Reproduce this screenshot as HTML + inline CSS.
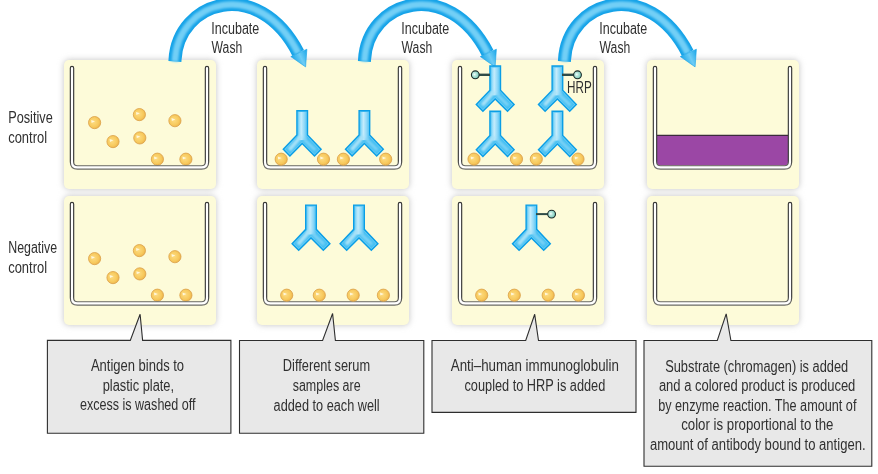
<!DOCTYPE html><html><head><meta charset="utf-8"><style>
html,body{margin:0;padding:0;background:#fff;width:878px;height:474px;overflow:hidden}svg{display:block}
text{font-family:"Liberation Sans",sans-serif;font-size:16px;fill:#303030}
</style></head><body>
<svg width="878" height="474" viewBox="0 0 878 474">
<defs>
<filter id="sh" x="-20%" y="-20%" width="140%" height="140%"><feGaussianBlur stdDeviation="3.3"/></filter>
<filter id="bl05" x="-50%" y="-50%" width="200%" height="200%"><feGaussianBlur stdDeviation="0.35"/></filter>
<filter id="bl1" x="-50%" y="-50%" width="200%" height="200%"><feGaussianBlur stdDeviation="1.1"/></filter>
<filter id="bl2" x="-50%" y="-50%" width="200%" height="200%"><feGaussianBlur stdDeviation="1.6"/></filter>
<radialGradient id="bg" cx="0.42" cy="0.45" r="0.62">
 <stop offset="0" stop-color="#fddc82"/><stop offset="0.65" stop-color="#f7c95d"/><stop offset="1" stop-color="#eab04a"/>
</radialGradient>
<radialGradient id="hg" cx="0.4" cy="0.45" r="0.6">
 <stop offset="0" stop-color="#f4fffc"/><stop offset="0.35" stop-color="#b9e7de"/><stop offset="0.75" stop-color="#8dd3c5"/><stop offset="1" stop-color="#6ebfb1"/>
</radialGradient>
<linearGradient id="headg" gradientUnits="userSpaceOnUse" x1="290.8" y1="56.6" x2="306.9" y2="49.2"><stop offset="0" stop-color="#18a5e8"/><stop offset="0.5" stop-color="#6dccf5"/><stop offset="1" stop-color="#18a5e8"/></linearGradient>
<linearGradient id="stemg" x1="-6" y1="0" x2="6" y2="0" gradientUnits="userSpaceOnUse">
 <stop offset="0" stop-color="#4cc2f2"/><stop offset="0.42" stop-color="#c4ecfc"/><stop offset="0.68" stop-color="#8fd8f8"/><stop offset="1" stop-color="#3cb9f0"/>
</linearGradient>
<clipPath id="abclip"><path d="M-3.90,2.10 L-3.90,25.54 L-16.97,39.26 L-12.30,43.93 L0.00,31.63 L12.30,43.93 L16.97,39.26 L3.90,25.54 L3.90,2.10 Z"/></clipPath>
</defs>
<g filter="url(#sh)" fill="#c2c2c2">
<rect x="64" y="60" width="152" height="129" rx="5"/>
<rect x="64" y="196" width="152" height="129" rx="5"/>
<rect x="257" y="60" width="152" height="129" rx="5"/>
<rect x="257" y="196" width="152" height="129" rx="5"/>
<rect x="452" y="60" width="152" height="129" rx="5"/>
<rect x="452" y="196" width="152" height="129" rx="5"/>
<rect x="647" y="60" width="152" height="129" rx="5"/>
<rect x="647" y="196" width="152" height="129" rx="5"/>
</g>
<rect x="64" y="60" width="152" height="129" rx="5" fill="#fdfbd9"/>
<rect x="64" y="196" width="152" height="129" rx="5" fill="#fdfbd9"/>
<rect x="257" y="60" width="152" height="129" rx="5" fill="#fdfbd9"/>
<rect x="257" y="196" width="152" height="129" rx="5" fill="#fdfbd9"/>
<rect x="452" y="60" width="152" height="129" rx="5" fill="#fdfbd9"/>
<rect x="452" y="196" width="152" height="129" rx="5" fill="#fdfbd9"/>
<rect x="647" y="60" width="152" height="129" rx="5" fill="#fdfbd9"/>
<rect x="647" y="196" width="152" height="129" rx="5" fill="#fdfbd9"/>
<g transform="translate(0,0)">
<path d="M174.9,61.5 L175,60 C177.94,0.93 258.2,-24.39 298.2,52.9" fill="none" stroke="#16a3e8" stroke-width="13"/>
<path d="M174.9,61.5 L175,60 C177.94,0.93 258.2,-24.39 298.2,52.9" fill="none" stroke="#72cff6" stroke-width="6.5" filter="url(#bl1)"/>
<path d="M290.8,56.6 L306.9,49.2 L305.6,66.9 Z" fill="url(#headg)" stroke="#16a3e8" stroke-width="0.6"/>
</g>
<g transform="translate(189.5,0)">
<path d="M174.9,61.5 L175,60 C177.94,0.93 258.2,-24.39 298.2,52.9" fill="none" stroke="#16a3e8" stroke-width="13"/>
<path d="M174.9,61.5 L175,60 C177.94,0.93 258.2,-24.39 298.2,52.9" fill="none" stroke="#72cff6" stroke-width="6.5" filter="url(#bl1)"/>
<path d="M290.8,56.6 L306.9,49.2 L305.6,66.9 Z" fill="url(#headg)" stroke="#16a3e8" stroke-width="0.6"/>
</g>
<g transform="translate(389.5,0)">
<path d="M174.9,61.5 L175,60 C177.94,0.93 258.2,-24.39 298.2,52.9" fill="none" stroke="#16a3e8" stroke-width="13"/>
<path d="M174.9,61.5 L175,60 C177.94,0.93 258.2,-24.39 298.2,52.9" fill="none" stroke="#72cff6" stroke-width="6.5" filter="url(#bl1)"/>
<path d="M290.8,56.6 L306.9,49.2 L305.6,66.9 Z" fill="url(#headg)" stroke="#16a3e8" stroke-width="0.6"/>
</g>
<g transform="translate(94.6,122.60)"><circle r="6.1" fill="url(#bg)" stroke="#dba048" stroke-width="0.8"/><path d="M-3.4,-2.6 L0.4,-1.3 L-3.0,0.3 Z" fill="#fffbe8" opacity="0.9" filter="url(#bl05)"/></g>
<g transform="translate(139.4,114.60)"><circle r="6.1" fill="url(#bg)" stroke="#dba048" stroke-width="0.8"/><path d="M-3.4,-2.6 L0.4,-1.3 L-3.0,0.3 Z" fill="#fffbe8" opacity="0.9" filter="url(#bl05)"/></g>
<g transform="translate(113,141.60)"><circle r="6.1" fill="url(#bg)" stroke="#dba048" stroke-width="0.8"/><path d="M-3.4,-2.6 L0.4,-1.3 L-3.0,0.3 Z" fill="#fffbe8" opacity="0.9" filter="url(#bl05)"/></g>
<g transform="translate(139.8,137.90)"><circle r="6.1" fill="url(#bg)" stroke="#dba048" stroke-width="0.8"/><path d="M-3.4,-2.6 L0.4,-1.3 L-3.0,0.3 Z" fill="#fffbe8" opacity="0.9" filter="url(#bl05)"/></g>
<g transform="translate(174.9,120.70)"><circle r="6.1" fill="url(#bg)" stroke="#dba048" stroke-width="0.8"/><path d="M-3.4,-2.6 L0.4,-1.3 L-3.0,0.3 Z" fill="#fffbe8" opacity="0.9" filter="url(#bl05)"/></g>
<g transform="translate(157.4,159.20)"><circle r="6.1" fill="url(#bg)" stroke="#dba048" stroke-width="0.8"/><path d="M-3.4,-2.6 L0.4,-1.3 L-3.0,0.3 Z" fill="#fffbe8" opacity="0.9" filter="url(#bl05)"/></g>
<g transform="translate(185.9,159.20)"><circle r="6.1" fill="url(#bg)" stroke="#dba048" stroke-width="0.8"/><path d="M-3.4,-2.6 L0.4,-1.3 L-3.0,0.3 Z" fill="#fffbe8" opacity="0.9" filter="url(#bl05)"/></g>
<g transform="translate(94.6,258.60)"><circle r="6.1" fill="url(#bg)" stroke="#dba048" stroke-width="0.8"/><path d="M-3.4,-2.6 L0.4,-1.3 L-3.0,0.3 Z" fill="#fffbe8" opacity="0.9" filter="url(#bl05)"/></g>
<g transform="translate(139.4,250.60)"><circle r="6.1" fill="url(#bg)" stroke="#dba048" stroke-width="0.8"/><path d="M-3.4,-2.6 L0.4,-1.3 L-3.0,0.3 Z" fill="#fffbe8" opacity="0.9" filter="url(#bl05)"/></g>
<g transform="translate(113,277.60)"><circle r="6.1" fill="url(#bg)" stroke="#dba048" stroke-width="0.8"/><path d="M-3.4,-2.6 L0.4,-1.3 L-3.0,0.3 Z" fill="#fffbe8" opacity="0.9" filter="url(#bl05)"/></g>
<g transform="translate(139.8,273.90)"><circle r="6.1" fill="url(#bg)" stroke="#dba048" stroke-width="0.8"/><path d="M-3.4,-2.6 L0.4,-1.3 L-3.0,0.3 Z" fill="#fffbe8" opacity="0.9" filter="url(#bl05)"/></g>
<g transform="translate(174.9,256.70)"><circle r="6.1" fill="url(#bg)" stroke="#dba048" stroke-width="0.8"/><path d="M-3.4,-2.6 L0.4,-1.3 L-3.0,0.3 Z" fill="#fffbe8" opacity="0.9" filter="url(#bl05)"/></g>
<g transform="translate(157.4,295.20)"><circle r="6.1" fill="url(#bg)" stroke="#dba048" stroke-width="0.8"/><path d="M-3.4,-2.6 L0.4,-1.3 L-3.0,0.3 Z" fill="#fffbe8" opacity="0.9" filter="url(#bl05)"/></g>
<g transform="translate(185.9,295.20)"><circle r="6.1" fill="url(#bg)" stroke="#dba048" stroke-width="0.8"/><path d="M-3.4,-2.6 L0.4,-1.3 L-3.0,0.3 Z" fill="#fffbe8" opacity="0.9" filter="url(#bl05)"/></g>
<path d="M656.8,135.4 H788.2 V161.8 Q788.2,165.5 784.5,165.5 H660.5 Q656.8,165.5 656.8,161.8 Z" fill="#9b47a5"/>
<line x1="656.8" y1="135.4" x2="788.2" y2="135.4" stroke="#3b2b3c" stroke-width="1.1"/>
<linearGradient id="wg64_60" gradientUnits="userSpaceOnUse" x1="0" y1="160.4" x2="0" y2="165.9"><stop offset="0" stop-color="#363636"/><stop offset="1" stop-color="#6a6a66"/></linearGradient>
<path d="M72,68 V161.9 Q72,167.4 77.5,167.4 H201.5 Q207,167.4 207,161.9 V68" fill="none" stroke="url(#wg64_60)" stroke-width="4.5" stroke-linecap="round" stroke-linejoin="round"/>
<path d="M72,68 V161.9 Q72,167.4 77.5,167.4 H201.5 Q207,167.4 207,161.9 V68" fill="none" stroke="#ffffff" stroke-width="2.2" stroke-linecap="round" stroke-linejoin="round"/>
<linearGradient id="wg64_196" gradientUnits="userSpaceOnUse" x1="0" y1="296.4" x2="0" y2="301.9"><stop offset="0" stop-color="#363636"/><stop offset="1" stop-color="#6a6a66"/></linearGradient>
<path d="M72,204 V297.9 Q72,303.4 77.5,303.4 H201.5 Q207,303.4 207,297.9 V204" fill="none" stroke="url(#wg64_196)" stroke-width="4.5" stroke-linecap="round" stroke-linejoin="round"/>
<path d="M72,204 V297.9 Q72,303.4 77.5,303.4 H201.5 Q207,303.4 207,297.9 V204" fill="none" stroke="#ffffff" stroke-width="2.2" stroke-linecap="round" stroke-linejoin="round"/>
<linearGradient id="wg257_60" gradientUnits="userSpaceOnUse" x1="0" y1="160.4" x2="0" y2="165.9"><stop offset="0" stop-color="#363636"/><stop offset="1" stop-color="#6a6a66"/></linearGradient>
<path d="M265,68 V161.9 Q265,167.4 270.5,167.4 H394.5 Q400,167.4 400,161.9 V68" fill="none" stroke="url(#wg257_60)" stroke-width="4.5" stroke-linecap="round" stroke-linejoin="round"/>
<path d="M265,68 V161.9 Q265,167.4 270.5,167.4 H394.5 Q400,167.4 400,161.9 V68" fill="none" stroke="#ffffff" stroke-width="2.2" stroke-linecap="round" stroke-linejoin="round"/>
<linearGradient id="wg257_196" gradientUnits="userSpaceOnUse" x1="0" y1="296.4" x2="0" y2="301.9"><stop offset="0" stop-color="#363636"/><stop offset="1" stop-color="#6a6a66"/></linearGradient>
<path d="M265,204 V297.9 Q265,303.4 270.5,303.4 H394.5 Q400,303.4 400,297.9 V204" fill="none" stroke="url(#wg257_196)" stroke-width="4.5" stroke-linecap="round" stroke-linejoin="round"/>
<path d="M265,204 V297.9 Q265,303.4 270.5,303.4 H394.5 Q400,303.4 400,297.9 V204" fill="none" stroke="#ffffff" stroke-width="2.2" stroke-linecap="round" stroke-linejoin="round"/>
<linearGradient id="wg452_60" gradientUnits="userSpaceOnUse" x1="0" y1="160.4" x2="0" y2="165.9"><stop offset="0" stop-color="#363636"/><stop offset="1" stop-color="#6a6a66"/></linearGradient>
<path d="M460,68 V161.9 Q460,167.4 465.5,167.4 H589.5 Q595,167.4 595,161.9 V68" fill="none" stroke="url(#wg452_60)" stroke-width="4.5" stroke-linecap="round" stroke-linejoin="round"/>
<path d="M460,68 V161.9 Q460,167.4 465.5,167.4 H589.5 Q595,167.4 595,161.9 V68" fill="none" stroke="#ffffff" stroke-width="2.2" stroke-linecap="round" stroke-linejoin="round"/>
<linearGradient id="wg452_196" gradientUnits="userSpaceOnUse" x1="0" y1="296.4" x2="0" y2="301.9"><stop offset="0" stop-color="#363636"/><stop offset="1" stop-color="#6a6a66"/></linearGradient>
<path d="M460,204 V297.9 Q460,303.4 465.5,303.4 H589.5 Q595,303.4 595,297.9 V204" fill="none" stroke="url(#wg452_196)" stroke-width="4.5" stroke-linecap="round" stroke-linejoin="round"/>
<path d="M460,204 V297.9 Q460,303.4 465.5,303.4 H589.5 Q595,303.4 595,297.9 V204" fill="none" stroke="#ffffff" stroke-width="2.2" stroke-linecap="round" stroke-linejoin="round"/>
<linearGradient id="wg647_60" gradientUnits="userSpaceOnUse" x1="0" y1="160.4" x2="0" y2="165.9"><stop offset="0" stop-color="#363636"/><stop offset="1" stop-color="#6a6a66"/></linearGradient>
<path d="M655,68 V161.9 Q655,167.4 660.5,167.4 H784.5 Q790,167.4 790,161.9 V68" fill="none" stroke="url(#wg647_60)" stroke-width="4.5" stroke-linecap="round" stroke-linejoin="round"/>
<path d="M655,68 V161.9 Q655,167.4 660.5,167.4 H784.5 Q790,167.4 790,161.9 V68" fill="none" stroke="#ffffff" stroke-width="2.2" stroke-linecap="round" stroke-linejoin="round"/>
<linearGradient id="wg647_196" gradientUnits="userSpaceOnUse" x1="0" y1="296.4" x2="0" y2="301.9"><stop offset="0" stop-color="#363636"/><stop offset="1" stop-color="#6a6a66"/></linearGradient>
<path d="M655,204 V297.9 Q655,303.4 660.5,303.4 H784.5 Q790,303.4 790,297.9 V204" fill="none" stroke="url(#wg647_196)" stroke-width="4.5" stroke-linecap="round" stroke-linejoin="round"/>
<path d="M655,204 V297.9 Q655,303.4 660.5,303.4 H784.5 Q790,303.4 790,297.9 V204" fill="none" stroke="#ffffff" stroke-width="2.2" stroke-linecap="round" stroke-linejoin="round"/>
<g transform="translate(302.2,110)"><path d="M-6.00,0.00 L6.00,0.00 L6.00,24.70 L19.90,39.30 L12.30,46.90 L0.00,34.60 L-12.30,46.90 L-19.90,39.30 L-6.00,24.70 Z" fill="#0a9ee6"/><path d="M-4.60,1.40 L-4.60,25.26 L-17.94,39.28 L-12.30,44.92 L0.00,32.62 L12.30,44.92 L17.94,39.28 L4.60,25.26 L4.60,1.40 Z" fill="#66cbf5"/><g clip-path="url(#abclip)"><path d="M-3.90,2.10 L-3.90,25.54 L-16.97,39.26 L-12.30,43.93 L0.00,31.63 L12.30,43.93 L16.97,39.26 L3.90,25.54 L3.90,2.10 Z" fill="#45bff2"/><rect x="-6" y="0" width="12" height="30" fill="url(#stemg)"/><path d="M-1,26 L-13,40" stroke="#a9e2f8" stroke-width="4" filter="url(#bl1)"/><path d="M1.5,29 L13,40" stroke="#7fd3f6" stroke-width="3" filter="url(#bl1)"/><path d="M0,22 L0,31" stroke="#c7edfb" stroke-width="5" filter="url(#bl2)"/></g></g>
<g transform="translate(364.4,110)"><path d="M-6.00,0.00 L6.00,0.00 L6.00,24.70 L19.90,39.30 L12.30,46.90 L0.00,34.60 L-12.30,46.90 L-19.90,39.30 L-6.00,24.70 Z" fill="#0a9ee6"/><path d="M-4.60,1.40 L-4.60,25.26 L-17.94,39.28 L-12.30,44.92 L0.00,32.62 L12.30,44.92 L17.94,39.28 L4.60,25.26 L4.60,1.40 Z" fill="#66cbf5"/><g clip-path="url(#abclip)"><path d="M-3.90,2.10 L-3.90,25.54 L-16.97,39.26 L-12.30,43.93 L0.00,31.63 L12.30,43.93 L16.97,39.26 L3.90,25.54 L3.90,2.10 Z" fill="#45bff2"/><rect x="-6" y="0" width="12" height="30" fill="url(#stemg)"/><path d="M-1,26 L-13,40" stroke="#a9e2f8" stroke-width="4" filter="url(#bl1)"/><path d="M1.5,29 L13,40" stroke="#7fd3f6" stroke-width="3" filter="url(#bl1)"/><path d="M0,22 L0,31" stroke="#c7edfb" stroke-width="5" filter="url(#bl2)"/></g></g>
<g transform="translate(281.2,159.20)"><circle r="6.1" fill="url(#bg)" stroke="#dba048" stroke-width="0.8"/><path d="M-3.4,-2.6 L0.4,-1.3 L-3.0,0.3 Z" fill="#fffbe8" opacity="0.9" filter="url(#bl05)"/></g>
<g transform="translate(323.5,159.20)"><circle r="6.1" fill="url(#bg)" stroke="#dba048" stroke-width="0.8"/><path d="M-3.4,-2.6 L0.4,-1.3 L-3.0,0.3 Z" fill="#fffbe8" opacity="0.9" filter="url(#bl05)"/></g>
<g transform="translate(343.4,159.20)"><circle r="6.1" fill="url(#bg)" stroke="#dba048" stroke-width="0.8"/><path d="M-3.4,-2.6 L0.4,-1.3 L-3.0,0.3 Z" fill="#fffbe8" opacity="0.9" filter="url(#bl05)"/></g>
<g transform="translate(385.7,159.20)"><circle r="6.1" fill="url(#bg)" stroke="#dba048" stroke-width="0.8"/><path d="M-3.4,-2.6 L0.4,-1.3 L-3.0,0.3 Z" fill="#fffbe8" opacity="0.9" filter="url(#bl05)"/></g>
<g transform="translate(311,204.4)"><path d="M-6.00,0.00 L6.00,0.00 L6.00,24.70 L19.90,39.30 L12.30,46.90 L0.00,34.60 L-12.30,46.90 L-19.90,39.30 L-6.00,24.70 Z" fill="#0a9ee6"/><path d="M-4.60,1.40 L-4.60,25.26 L-17.94,39.28 L-12.30,44.92 L0.00,32.62 L12.30,44.92 L17.94,39.28 L4.60,25.26 L4.60,1.40 Z" fill="#66cbf5"/><g clip-path="url(#abclip)"><path d="M-3.90,2.10 L-3.90,25.54 L-16.97,39.26 L-12.30,43.93 L0.00,31.63 L12.30,43.93 L16.97,39.26 L3.90,25.54 L3.90,2.10 Z" fill="#45bff2"/><rect x="-6" y="0" width="12" height="30" fill="url(#stemg)"/><path d="M-1,26 L-13,40" stroke="#a9e2f8" stroke-width="4" filter="url(#bl1)"/><path d="M1.5,29 L13,40" stroke="#7fd3f6" stroke-width="3" filter="url(#bl1)"/><path d="M0,22 L0,31" stroke="#c7edfb" stroke-width="5" filter="url(#bl2)"/></g></g>
<g transform="translate(359,204.4)"><path d="M-6.00,0.00 L6.00,0.00 L6.00,24.70 L19.90,39.30 L12.30,46.90 L0.00,34.60 L-12.30,46.90 L-19.90,39.30 L-6.00,24.70 Z" fill="#0a9ee6"/><path d="M-4.60,1.40 L-4.60,25.26 L-17.94,39.28 L-12.30,44.92 L0.00,32.62 L12.30,44.92 L17.94,39.28 L4.60,25.26 L4.60,1.40 Z" fill="#66cbf5"/><g clip-path="url(#abclip)"><path d="M-3.90,2.10 L-3.90,25.54 L-16.97,39.26 L-12.30,43.93 L0.00,31.63 L12.30,43.93 L16.97,39.26 L3.90,25.54 L3.90,2.10 Z" fill="#45bff2"/><rect x="-6" y="0" width="12" height="30" fill="url(#stemg)"/><path d="M-1,26 L-13,40" stroke="#a9e2f8" stroke-width="4" filter="url(#bl1)"/><path d="M1.5,29 L13,40" stroke="#7fd3f6" stroke-width="3" filter="url(#bl1)"/><path d="M0,22 L0,31" stroke="#c7edfb" stroke-width="5" filter="url(#bl2)"/></g></g>
<g transform="translate(286.7,295.20)"><circle r="6.1" fill="url(#bg)" stroke="#dba048" stroke-width="0.8"/><path d="M-3.4,-2.6 L0.4,-1.3 L-3.0,0.3 Z" fill="#fffbe8" opacity="0.9" filter="url(#bl05)"/></g>
<g transform="translate(319.3,295.20)"><circle r="6.1" fill="url(#bg)" stroke="#dba048" stroke-width="0.8"/><path d="M-3.4,-2.6 L0.4,-1.3 L-3.0,0.3 Z" fill="#fffbe8" opacity="0.9" filter="url(#bl05)"/></g>
<g transform="translate(353.2,295.20)"><circle r="6.1" fill="url(#bg)" stroke="#dba048" stroke-width="0.8"/><path d="M-3.4,-2.6 L0.4,-1.3 L-3.0,0.3 Z" fill="#fffbe8" opacity="0.9" filter="url(#bl05)"/></g>
<g transform="translate(383.4,295.20)"><circle r="6.1" fill="url(#bg)" stroke="#dba048" stroke-width="0.8"/><path d="M-3.4,-2.6 L0.4,-1.3 L-3.0,0.3 Z" fill="#fffbe8" opacity="0.9" filter="url(#bl05)"/></g>
<g transform="translate(495.2,65.3)"><path d="M-6.00,0.00 L6.00,0.00 L6.00,24.70 L19.90,39.30 L12.30,46.90 L0.00,34.60 L-12.30,46.90 L-19.90,39.30 L-6.00,24.70 Z" fill="#0a9ee6"/><path d="M-4.60,1.40 L-4.60,25.26 L-17.94,39.28 L-12.30,44.92 L0.00,32.62 L12.30,44.92 L17.94,39.28 L4.60,25.26 L4.60,1.40 Z" fill="#66cbf5"/><g clip-path="url(#abclip)"><path d="M-3.90,2.10 L-3.90,25.54 L-16.97,39.26 L-12.30,43.93 L0.00,31.63 L12.30,43.93 L16.97,39.26 L3.90,25.54 L3.90,2.10 Z" fill="#45bff2"/><rect x="-6" y="0" width="12" height="30" fill="url(#stemg)"/><path d="M-1,26 L-13,40" stroke="#a9e2f8" stroke-width="4" filter="url(#bl1)"/><path d="M1.5,29 L13,40" stroke="#7fd3f6" stroke-width="3" filter="url(#bl1)"/><path d="M0,22 L0,31" stroke="#c7edfb" stroke-width="5" filter="url(#bl2)"/></g></g>
<g transform="translate(557.4,65.3)"><path d="M-6.00,0.00 L6.00,0.00 L6.00,24.70 L19.90,39.30 L12.30,46.90 L0.00,34.60 L-12.30,46.90 L-19.90,39.30 L-6.00,24.70 Z" fill="#0a9ee6"/><path d="M-4.60,1.40 L-4.60,25.26 L-17.94,39.28 L-12.30,44.92 L0.00,32.62 L12.30,44.92 L17.94,39.28 L4.60,25.26 L4.60,1.40 Z" fill="#66cbf5"/><g clip-path="url(#abclip)"><path d="M-3.90,2.10 L-3.90,25.54 L-16.97,39.26 L-12.30,43.93 L0.00,31.63 L12.30,43.93 L16.97,39.26 L3.90,25.54 L3.90,2.10 Z" fill="#45bff2"/><rect x="-6" y="0" width="12" height="30" fill="url(#stemg)"/><path d="M-1,26 L-13,40" stroke="#a9e2f8" stroke-width="4" filter="url(#bl1)"/><path d="M1.5,29 L13,40" stroke="#7fd3f6" stroke-width="3" filter="url(#bl1)"/><path d="M0,22 L0,31" stroke="#c7edfb" stroke-width="5" filter="url(#bl2)"/></g></g>
<g transform="translate(495.2,110.5)"><path d="M-6.00,0.00 L6.00,0.00 L6.00,24.70 L19.90,39.30 L12.30,46.90 L0.00,34.60 L-12.30,46.90 L-19.90,39.30 L-6.00,24.70 Z" fill="#0a9ee6"/><path d="M-4.60,1.40 L-4.60,25.26 L-17.94,39.28 L-12.30,44.92 L0.00,32.62 L12.30,44.92 L17.94,39.28 L4.60,25.26 L4.60,1.40 Z" fill="#66cbf5"/><g clip-path="url(#abclip)"><path d="M-3.90,2.10 L-3.90,25.54 L-16.97,39.26 L-12.30,43.93 L0.00,31.63 L12.30,43.93 L16.97,39.26 L3.90,25.54 L3.90,2.10 Z" fill="#45bff2"/><rect x="-6" y="0" width="12" height="30" fill="url(#stemg)"/><path d="M-1,26 L-13,40" stroke="#a9e2f8" stroke-width="4" filter="url(#bl1)"/><path d="M1.5,29 L13,40" stroke="#7fd3f6" stroke-width="3" filter="url(#bl1)"/><path d="M0,22 L0,31" stroke="#c7edfb" stroke-width="5" filter="url(#bl2)"/></g></g>
<g transform="translate(557.4,110.5)"><path d="M-6.00,0.00 L6.00,0.00 L6.00,24.70 L19.90,39.30 L12.30,46.90 L0.00,34.60 L-12.30,46.90 L-19.90,39.30 L-6.00,24.70 Z" fill="#0a9ee6"/><path d="M-4.60,1.40 L-4.60,25.26 L-17.94,39.28 L-12.30,44.92 L0.00,32.62 L12.30,44.92 L17.94,39.28 L4.60,25.26 L4.60,1.40 Z" fill="#66cbf5"/><g clip-path="url(#abclip)"><path d="M-3.90,2.10 L-3.90,25.54 L-16.97,39.26 L-12.30,43.93 L0.00,31.63 L12.30,43.93 L16.97,39.26 L3.90,25.54 L3.90,2.10 Z" fill="#45bff2"/><rect x="-6" y="0" width="12" height="30" fill="url(#stemg)"/><path d="M-1,26 L-13,40" stroke="#a9e2f8" stroke-width="4" filter="url(#bl1)"/><path d="M1.5,29 L13,40" stroke="#7fd3f6" stroke-width="3" filter="url(#bl1)"/><path d="M0,22 L0,31" stroke="#c7edfb" stroke-width="5" filter="url(#bl2)"/></g></g>
<g transform="translate(474,159.10)"><circle r="6.1" fill="url(#bg)" stroke="#dba048" stroke-width="0.8"/><path d="M-3.4,-2.6 L0.4,-1.3 L-3.0,0.3 Z" fill="#fffbe8" opacity="0.9" filter="url(#bl05)"/></g>
<g transform="translate(516.5,159.10)"><circle r="6.1" fill="url(#bg)" stroke="#dba048" stroke-width="0.8"/><path d="M-3.4,-2.6 L0.4,-1.3 L-3.0,0.3 Z" fill="#fffbe8" opacity="0.9" filter="url(#bl05)"/></g>
<g transform="translate(536.3,159.10)"><circle r="6.1" fill="url(#bg)" stroke="#dba048" stroke-width="0.8"/><path d="M-3.4,-2.6 L0.4,-1.3 L-3.0,0.3 Z" fill="#fffbe8" opacity="0.9" filter="url(#bl05)"/></g>
<g transform="translate(578,159.10)"><circle r="6.1" fill="url(#bg)" stroke="#dba048" stroke-width="0.8"/><path d="M-3.4,-2.6 L0.4,-1.3 L-3.0,0.3 Z" fill="#fffbe8" opacity="0.9" filter="url(#bl05)"/></g>
<line x1="478.5" y1="74.8" x2="490" y2="74.8" stroke="#2f4b48" stroke-width="2.4"/>
<g transform="translate(475.3,74.8)"><circle r="3.9" fill="url(#hg)" stroke="#1d2b2a" stroke-width="1.1"/></g>
<line x1="562" y1="74.8" x2="574" y2="74.8" stroke="#2f4b48" stroke-width="2.4"/>
<g transform="translate(577.5,74.8)"><circle r="3.9" fill="url(#hg)" stroke="#1d2b2a" stroke-width="1.1"/></g>
<g transform="translate(531.4,204.4)"><path d="M-6.00,0.00 L6.00,0.00 L6.00,24.70 L19.90,39.30 L12.30,46.90 L0.00,34.60 L-12.30,46.90 L-19.90,39.30 L-6.00,24.70 Z" fill="#0a9ee6"/><path d="M-4.60,1.40 L-4.60,25.26 L-17.94,39.28 L-12.30,44.92 L0.00,32.62 L12.30,44.92 L17.94,39.28 L4.60,25.26 L4.60,1.40 Z" fill="#66cbf5"/><g clip-path="url(#abclip)"><path d="M-3.90,2.10 L-3.90,25.54 L-16.97,39.26 L-12.30,43.93 L0.00,31.63 L12.30,43.93 L16.97,39.26 L3.90,25.54 L3.90,2.10 Z" fill="#45bff2"/><rect x="-6" y="0" width="12" height="30" fill="url(#stemg)"/><path d="M-1,26 L-13,40" stroke="#a9e2f8" stroke-width="4" filter="url(#bl1)"/><path d="M1.5,29 L13,40" stroke="#7fd3f6" stroke-width="3" filter="url(#bl1)"/><path d="M0,22 L0,31" stroke="#c7edfb" stroke-width="5" filter="url(#bl2)"/></g></g>
<line x1="536" y1="214.1" x2="548" y2="214.1" stroke="#2f4b48" stroke-width="2"/>
<g transform="translate(551.6,214.1)"><circle r="3.9" fill="url(#hg)" stroke="#1d2b2a" stroke-width="1.1"/></g>
<g transform="translate(481.7,295.20)"><circle r="6.1" fill="url(#bg)" stroke="#dba048" stroke-width="0.8"/><path d="M-3.4,-2.6 L0.4,-1.3 L-3.0,0.3 Z" fill="#fffbe8" opacity="0.9" filter="url(#bl05)"/></g>
<g transform="translate(514.3,295.20)"><circle r="6.1" fill="url(#bg)" stroke="#dba048" stroke-width="0.8"/><path d="M-3.4,-2.6 L0.4,-1.3 L-3.0,0.3 Z" fill="#fffbe8" opacity="0.9" filter="url(#bl05)"/></g>
<g transform="translate(548.2,295.20)"><circle r="6.1" fill="url(#bg)" stroke="#dba048" stroke-width="0.8"/><path d="M-3.4,-2.6 L0.4,-1.3 L-3.0,0.3 Z" fill="#fffbe8" opacity="0.9" filter="url(#bl05)"/></g>
<g transform="translate(578.4,295.20)"><circle r="6.1" fill="url(#bg)" stroke="#dba048" stroke-width="0.8"/><path d="M-3.4,-2.6 L0.4,-1.3 L-3.0,0.3 Z" fill="#fffbe8" opacity="0.9" filter="url(#bl05)"/></g>
<path d="M47.4,340.4 H130.3 L140.1,314.2 L142.6,340.4 H230.9 V433.3 H47.4 Z" fill="#e8e8e8" stroke="#2e2e2e" stroke-width="1.1" stroke-linejoin="miter"/>
<path d="M239.5,340.5 H322.6 L332.6,313.5 L335.4,340.5 H423.8 V433.3 H239.5 Z" fill="#e8e8e8" stroke="#2e2e2e" stroke-width="1.1" stroke-linejoin="miter"/>
<path d="M432,340.5 H525.7 L534.7,314.3 L538.5,340.5 H636 V412.4 H432 Z" fill="#e8e8e8" stroke="#2e2e2e" stroke-width="1.1" stroke-linejoin="miter"/>
<path d="M644,340.5 H717.3 L726.2,313.9 L730.9,340.5 H871.8 V466.3 H644 Z" fill="#e8e8e8" stroke="#2e2e2e" stroke-width="1.1" stroke-linejoin="miter"/>
<g style="will-change:transform">
<text x="211.32" y="33.5" textLength="47.99" lengthAdjust="spacingAndGlyphs">Incubate</text>
<text x="211.60" y="52.8" textLength="30.64" lengthAdjust="spacingAndGlyphs">Wash</text>
<text x="401.32" y="33.5" textLength="47.99" lengthAdjust="spacingAndGlyphs">Incubate</text>
<text x="401.60" y="52.8" textLength="30.64" lengthAdjust="spacingAndGlyphs">Wash</text>
<text x="599.32" y="33.5" textLength="47.99" lengthAdjust="spacingAndGlyphs">Incubate</text>
<text x="599.60" y="52.8" textLength="30.64" lengthAdjust="spacingAndGlyphs">Wash</text>
<text x="8.21" y="122.7" textLength="44.52" lengthAdjust="spacingAndGlyphs">Positive</text>
<text x="8.20" y="142.7" textLength="38.83" lengthAdjust="spacingAndGlyphs">control</text>
<text x="8.23" y="252.7" textLength="48.90" lengthAdjust="spacingAndGlyphs">Negative</text>
<text x="8.20" y="272.7" textLength="38.83" lengthAdjust="spacingAndGlyphs">control</text>
<text x="567.07" y="92.5" textLength="24.70" lengthAdjust="spacingAndGlyphs">HRP</text>
<text x="90.90" y="371.3" textLength="93.20" lengthAdjust="spacingAndGlyphs">Antigen binds to</text>
<text x="102.70" y="390.9" textLength="71.35" lengthAdjust="spacingAndGlyphs">plastic plate,</text>
<text x="79.90" y="410.3" textLength="115.68" lengthAdjust="spacingAndGlyphs">excess is washed off</text>
<text x="282.80" y="371.0" textLength="87.26" lengthAdjust="spacingAndGlyphs">Different serum</text>
<text x="292.70" y="390.7" textLength="67.92" lengthAdjust="spacingAndGlyphs">samples are</text>
<text x="273.60" y="410.5" textLength="106.05" lengthAdjust="spacingAndGlyphs">added to each well</text>
<text x="450.80" y="371.2" textLength="168.12" lengthAdjust="spacingAndGlyphs">Anti–human immunoglobulin</text>
<text x="464.50" y="390.7" textLength="140.78" lengthAdjust="spacingAndGlyphs">coupled to HRP is added</text>
<text x="665.20" y="371.5" textLength="182.96" lengthAdjust="spacingAndGlyphs">Substrate (chromagen) is added</text>
<text x="658.90" y="391.0" textLength="196.45" lengthAdjust="spacingAndGlyphs">and a colored product is produced</text>
<text x="658.20" y="410.5" textLength="198.22" lengthAdjust="spacingAndGlyphs">by enzyme reaction. The amount of</text>
<text x="681.20" y="430.4" textLength="152.29" lengthAdjust="spacingAndGlyphs">color is proportional to the</text>
<text x="649.90" y="450.2" textLength="215.68" lengthAdjust="spacingAndGlyphs">amount of antibody bound to antigen.</text>
</g>
</svg></body></html>
